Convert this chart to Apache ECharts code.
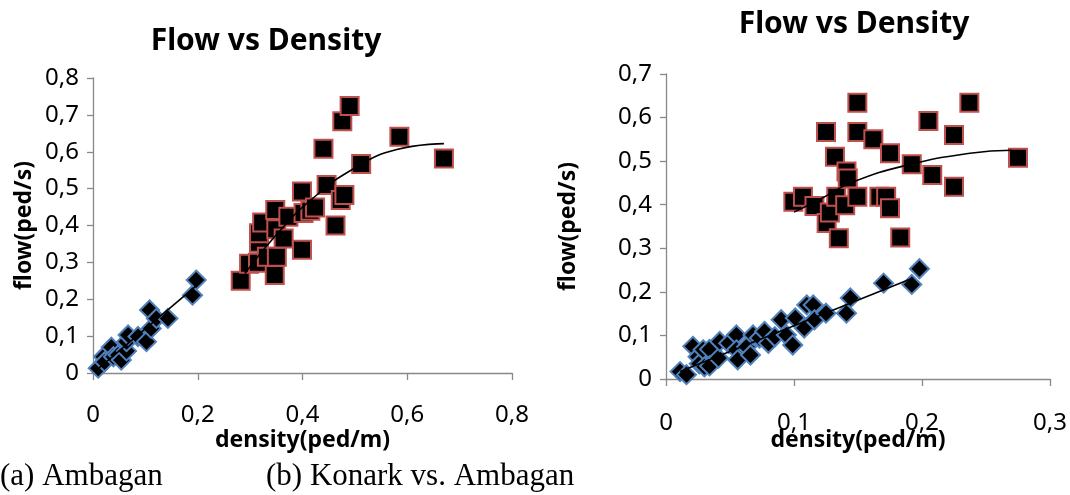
<!DOCTYPE html>
<html>
<head>
<meta charset="utf-8">
<script src="https://cdn.jsdelivr.net/npm/echarts@6.0.0/dist/echarts.min.js"></script>
<style>
  html, body { margin: 0; padding: 0; background: #fff; }
  #chart { width: 1070px; height: 495px; }
</style>
</head>
<body>
<div id="chart"></div>
<script>
// (a) Ambagan
let ambagan_low = [
    [0.010, 0.013], [0.020, 0.044], [0.022, 0.030], [0.035, 0.070], [0.039, 0.044],
    [0.048, 0.049], [0.054, 0.035], [0.064, 0.060], [0.064, 0.085], [0.067, 0.103],
    [0.086, 0.099], [0.102, 0.085], [0.111, 0.121], [0.108, 0.171], [0.121, 0.148],
    [0.143, 0.148], [0.190, 0.211], [0.197, 0.252]
];
let ambagan_high = [
    [0.282, 0.250], [0.298, 0.296], [0.315, 0.299], [0.317, 0.353], [0.317, 0.379],
    [0.323, 0.408], [0.332, 0.315], [0.347, 0.266], [0.351, 0.315], [0.348, 0.442],
    [0.350, 0.390], [0.364, 0.365], [0.373, 0.424], [0.399, 0.334], [0.399, 0.492],
    [0.402, 0.434], [0.415, 0.440], [0.424, 0.449], [0.440, 0.608], [0.446, 0.510],
    [0.463, 0.400], [0.473, 0.469], [0.480, 0.483], [0.476, 0.683], [0.490, 0.724],
    [0.512, 0.567], [0.585, 0.641], [0.670, 0.582]
];
let ambagan_low_trend = [[0.010, 0.012], [0.197, 0.236]];
let ambagan_high_trend = [[0.29, 0.27], [0.35, 0.375], [0.42, 0.474], [0.50, 0.556], [0.58, 0.606], [0.67, 0.622]];

// (b) Konark vs. Ambagan
let konark_low = [
    [0.011, 0.017], [0.016, 0.010], [0.021, 0.075], [0.025, 0.051], [0.026, 0.035],
    [0.029, 0.067], [0.030, 0.028], [0.034, 0.068], [0.034, 0.030], [0.041, 0.048],
    [0.042, 0.086], [0.049, 0.082], [0.055, 0.101], [0.055, 0.067], [0.056, 0.044],
    [0.063, 0.074], [0.066, 0.055], [0.068, 0.101], [0.073, 0.094], [0.077, 0.109],
    [0.080, 0.082], [0.085, 0.097], [0.090, 0.136], [0.094, 0.101], [0.099, 0.078],
    [0.101, 0.140], [0.108, 0.117], [0.110, 0.170], [0.115, 0.170], [0.116, 0.136],
    [0.125, 0.151], [0.141, 0.151], [0.144, 0.186], [0.170, 0.220], [0.192, 0.217],
    [0.198, 0.253]
];
let konark_high = [
    [0.0995, 0.407], [0.107, 0.418], [0.116, 0.397], [0.125, 0.567], [0.1255, 0.358],
    [0.128, 0.382], [0.132, 0.510], [0.133, 0.418], [0.135, 0.323], [0.140, 0.399],
    [0.141, 0.476], [0.142, 0.460], [0.1495, 0.634], [0.1495, 0.567], [0.1495, 0.418],
    [0.162, 0.550], [0.1667, 0.418], [0.172, 0.418], [0.175, 0.518], [0.175, 0.392],
    [0.183, 0.325], [0.192, 0.493], [0.205, 0.592], [0.208, 0.468], [0.225, 0.560],
    [0.225, 0.441], [0.237, 0.634], [0.275, 0.508]
];
let konark_low_trend = [[0.011, 0.017], [0.193, 0.232]];
let konark_high_trend = [[0.10, 0.383], [0.12, 0.412], [0.146, 0.452], [0.19, 0.492], [0.2375, 0.518], [0.27, 0.525]];

let x_max = [0.8, 0.3];
let x_step = [0.2, 0.1];
let y_max = [0.8, 0.7];

let chart_title = 'Flow vs Density';
let x_name = 'density(ped/m)';
let y_name = 'flow(ped/s)';
let captions = ['(a) Ambagan', '(b) Konark vs. Ambagan'];

let sans = '"Noto Sans", "Open Sans", sans-serif';
let axis_color = '#898989';

let comma = function (v) {
    return String(v).replace('.', ',');
};

let make_x = function (i, gap, margin) {
    return {
        type: 'value', gridIndex: i, min: 0, max: x_max[i], interval: x_step[i],
        name: x_name, nameLocation: 'middle', nameGap: gap, nameMoveOverlap: false,
        nameTextStyle: {fontFamily: sans, fontWeight: 'bold', fontSize: 23, color: '#000'},
        axisLine: {show: true, onZero: false, lineStyle: {color: axis_color, width: 1.3}},
        axisTick: {show: true, inside: false, length: 7, lineStyle: {color: axis_color, width: 1.3}},
        axisLabel: {margin: margin, fontFamily: sans, fontSize: 24, color: '#000', formatter: comma},
        splitLine: {show: false}
    };
};

let make_y = function (i, gap) {
    return {
        type: 'value', gridIndex: i, min: 0, max: y_max[i], interval: 0.1,
        name: y_name, nameLocation: 'middle', nameGap: gap, nameRotate: 90, nameMoveOverlap: false,
        nameTextStyle: {fontFamily: sans, fontWeight: 'bold', fontSize: 23, color: '#000'},
        axisLine: {show: true, onZero: false, lineStyle: {color: axis_color, width: 1.3}},
        axisTick: {show: true, inside: false, length: 6, lineStyle: {color: axis_color, width: 1.3}},
        axisLabel: {margin: 14, fontFamily: sans, fontSize: 24, color: '#000', formatter: comma},
        splitLine: {show: false}
    };
};

let diamonds = function (i, data) {
    return {
        type: 'scatter', xAxisIndex: i, yAxisIndex: i, data: data,
        symbol: 'diamond', symbolSize: 19, z: 2,
        itemStyle: {color: '#000', opacity: 1, borderColor: '#4F81BD', borderWidth: 2}
    };
};

let squares = function (i, data) {
    return {
        type: 'scatter', xAxisIndex: i, yAxisIndex: i, data: data,
        symbol: 'rect', symbolSize: 18, z: 3,
        itemStyle: {color: '#000', opacity: 1, borderColor: '#C0504D', borderWidth: 2}
    };
};

let trend = function (i, data, smooth) {
    return {
        type: 'line', xAxisIndex: i, yAxisIndex: i, data: data, smooth: smooth,
        showSymbol: false, silent: true, z: 5,
        lineStyle: {color: '#000', width: 1.6}
    };
};

let text = function (str, x, y, font, align) {
    return {
        type: 'text', x: x, y: y, silent: true,
        style: {text: str, font: font, fill: '#000', align: align, textAlign: align,
            verticalAlign: 'middle', textVerticalAlign: 'middle'}
    };
};

let myChart = echarts.init(document.getElementById('chart'));

let option = {
    animation: false,
    backgroundColor: '#fff',
    grid: [
        {left: 93, top: 78, width: 419, height: 295, outerBoundsMode: 'none'},
        {left: 666, top: 74, width: 384, height: 305, outerBoundsMode: 'none'}
    ],
    xAxis: [make_x(0, 56, 30), make_x(1, 50, 32)],
    yAxis: [make_y(0, 57), make_y(1, 86)],
    series: [
        diamonds(0, ambagan_low),
        squares(0, ambagan_high),
        trend(0, ambagan_low_trend, false),
        trend(0, ambagan_high_trend, true),
        diamonds(1, konark_low),
        squares(1, konark_high),
        trend(1, konark_low_trend, false),
        trend(1, konark_high_trend, true)
    ],
    graphic: [
        text(chart_title, 266, 41, 'bold 30px ' + sans, 'center'),
        text(chart_title, 854, 24, 'bold 30px ' + sans, 'center'),
        text(captions[0], 0, 477, '31px "Liberation Serif", "Times New Roman", serif', 'left'),
        text(captions[1], 266, 477, '31px "Liberation Serif", "Times New Roman", serif', 'left')
    ]
};

myChart.setOption(option);
</script>
</body>
</html>
